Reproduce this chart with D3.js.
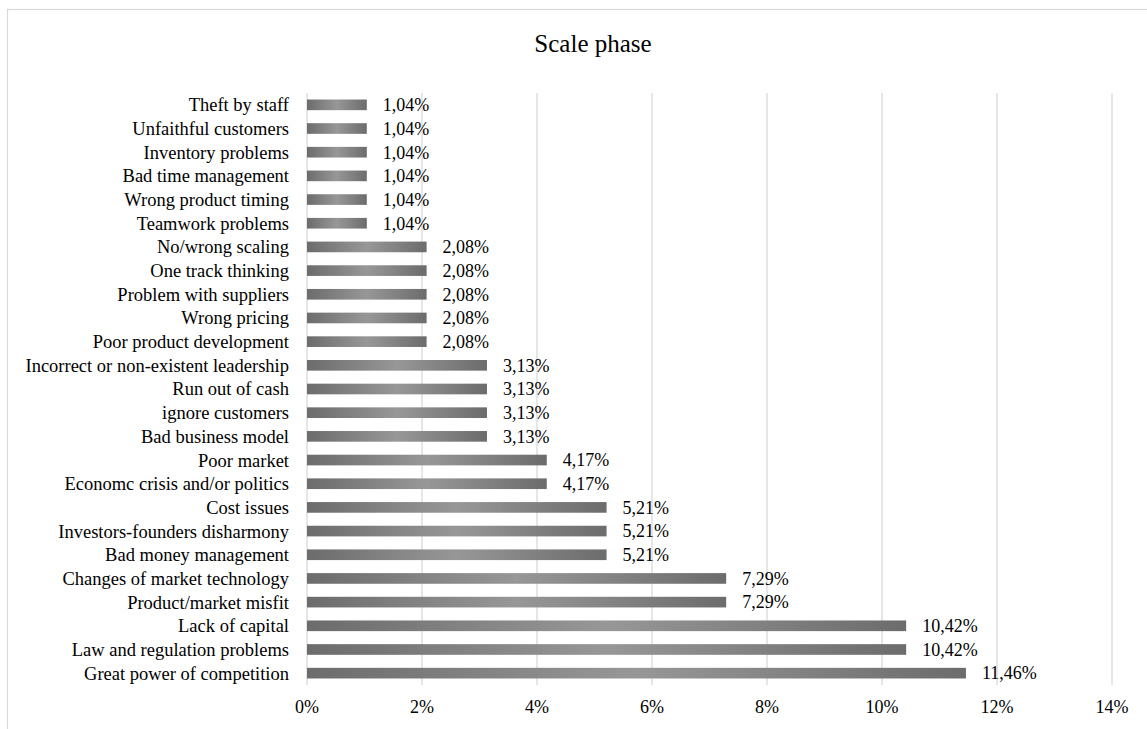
<!DOCTYPE html>
<html><head><meta charset="utf-8">
<script src="https://cdn.jsdelivr.net/npm/d3@7"></script>
<style>body{margin:0;background:#fff}svg{display:block}</style>
</head><body>
<svg id="c" width="1147" height="729"></svg>
<script>
const categories = ["Theft by staff","Unfaithful customers","Inventory problems","Bad time management","Wrong product timing","Teamwork problems","No/wrong scaling","One track thinking","Problem with suppliers","Wrong pricing","Poor product development","Incorrect or non-existent leadership","Run out of cash","ignore customers","Bad business model","Poor market","Economc crisis and/or politics","Cost issues","Investors-founders disharmony","Bad money management","Changes of market technology","Product/market misfit","Lack of capital","Law and regulation problems","Great power of competition"];
const values = [1.04,1.04,1.04,1.04,1.04,1.04,2.08,2.08,2.08,2.08,2.08,3.13,3.13,3.13,3.13,4.17,4.17,5.21,5.21,5.21,7.29,7.29,10.42,10.42,11.46];
const ticks = [0,2,4,6,8,10,12,14];
const title = "Scale phase";

const svg = d3.select("#c");
const font = "'Liberation Serif','Times New Roman',serif";
const L = 307, R = 1112, T = 93, B = 685;

svg.append("rect").attr("x",7.5).attr("y",9.5).attr("width",1300).attr("height",900)
  .attr("fill","#fff").attr("stroke","#d9d9d9").attr("stroke-width",1.2);

const defs = svg.append("defs");
const g = defs.append("linearGradient").attr("id","bg").attr("x1","0").attr("x2","1").attr("y1","0").attr("y2","0");
g.append("stop").attr("offset","0").attr("stop-color","#6c6c6c");
g.append("stop").attr("offset","0.5").attr("stop-color","#979797");
g.append("stop").attr("offset","1").attr("stop-color","#6c6c6c");

const x = d3.scaleLinear().domain([0,14]).range([L,R]);
const y = d3.scaleBand().domain(categories).range([T,B]).paddingInner(0.55).paddingOuter(0.275);

svg.append("g").selectAll("line").data(ticks).join("line")
  .attr("x1",d=>x(d)).attr("x2",d=>x(d)).attr("y1",T).attr("y2",B)
  .attr("stroke","#d9d9d9").attr("stroke-width",1.3);

svg.append("g").selectAll("rect").data(categories).join("rect")
  .attr("x",x(0)).attr("y",d=>y(d)).attr("height",y.bandwidth())
  .attr("width",(d,i)=>x(values[i])-x(0)).attr("fill","url(#bg)");

svg.append("g").selectAll("text").data(categories).join("text")
  .attr("x",289).attr("y",d=>y(d)+y.bandwidth()/2).attr("dy","0.35em")
  .attr("text-anchor","end").attr("font-family",font).attr("font-size",18.5).attr("fill","#000")
  .text(d=>d);

svg.append("g").selectAll("text").data(categories).join("text")
  .attr("x",(d,i)=>x(values[i])+16).attr("y",d=>y(d)+y.bandwidth()/2).attr("dy","0.35em")
  .attr("font-family",font).attr("font-size",18).attr("fill","#000")
  .text((d,i)=>values[i].toFixed(2).replace(".",",")+"%");

svg.append("g").selectAll("text").data(ticks).join("text")
  .attr("x",d=>x(d)).attr("y",713).attr("text-anchor","middle")
  .attr("font-family",font).attr("font-size",18).attr("fill","#000")
  .text(d=>d+"%");

svg.append("text").attr("x",593).attr("y",52).attr("text-anchor","middle")
  .attr("font-family",font).attr("font-size",25).attr("fill","#000").text(title);
</script>
</body></html>
